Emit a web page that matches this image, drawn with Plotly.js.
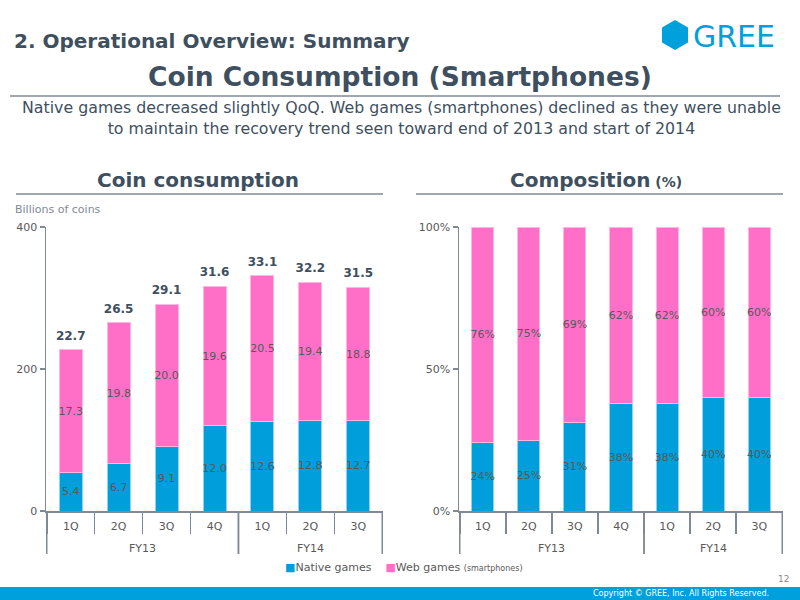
<!DOCTYPE html>
<html>
<head>
<meta charset="utf-8">
<script src="https://cdn.plot.ly/plotly-3.0.1.min.js"></script>
<style>html,body{margin:0;padding:0;background:#fff;}#chart{width:800px;height:600px;}</style>
</head>
<body>
<div id="chart"></div>
<script>
// ---- data ----
const periods = ['1Q','2Q','3Q','4Q','1Q','2Q','3Q'];
const fiscalYears = ['FY13','FY13','FY13','FY13','FY14','FY14','FY14'];
const nativeGames = [5.4, 6.7, 9.1, 12.0, 12.6, 12.8, 12.7];
const webGames = [17.3, 19.8, 20.0, 19.6, 20.5, 19.4, 18.8];
const totals = [22.7, 26.5, 29.1, 31.6, 33.1, 32.2, 31.5];
const nativePct = [24, 25, 31, 38, 38, 40, 40];
const webPct = [76, 75, 69, 62, 62, 60, 60];
const leftTickVals = [0, 20, 40];
const leftTickText = ['0', '200', '400'];
const rightTickVals = [0, 50, 100];
const rightTickText = ['0%', '50%', '100%'];

// ---- styles ----
const BLUE = '#009FDB';
const PINK = '#FF6FC8';
const DARK = '#3E4F60';
const GRAY = '#7F8A96';
const LABEL = '#595959';
const FONT = 'DejaVu Sans';
const px = v => v / 800;
const py = v => 1 - v / 600;

// unique category keys (fiscal year + quarter), shown as quarter only
const keys = periods.map((p, i) => fiscalYears[i] + ' ' + p);
const groups = [...new Set(fiscalYears)].map(fy => {
  const idx = fiscalYears.map((f, i) => f === fy ? i : -1).filter(i => i >= 0);
  return {fy: fy, first: idx[0], last: idx[idx.length - 1]};
});

const barCommon = {
  type: 'bar', textposition: 'inside', insidetextanchor: 'middle', textangle: 0,
  constraintext: 'none', cliponaxis: false, hoverinfo: 'skip',
  textfont: {family: FONT, size: 11, color: LABEL}
};

const traces = [
  Object.assign({}, barCommon, {x: keys, y: nativeGames, name: 'Native games', xaxis: 'x', yaxis: 'y',
    text: nativeGames.map(v => v.toFixed(1)), marker: {color: BLUE, line: {color: '#8fd3f0', width: 1}}}),
  Object.assign({}, barCommon, {x: keys, y: webGames, name: 'Web games', xaxis: 'x', yaxis: 'y',
    text: webGames.map(v => v.toFixed(1)), marker: {color: PINK, line: {color: '#ffb8e3', width: 1}}}),
  {type: 'scatter', mode: 'markers+text', x: keys, y: totals, xaxis: 'x', yaxis: 'y', hoverinfo: 'skip',
    marker: {size: 10, color: 'rgba(0,0,0,0)'},
    text: totals.map(v => v.toFixed(1)), textposition: 'top center', cliponaxis: false,
    textfont: {family: FONT, size: 12, color: DARK, weight: 'bold'}},
  Object.assign({}, barCommon, {x: keys, y: nativePct, name: 'Native games %', xaxis: 'x2', yaxis: 'y2',
    text: nativePct.map(v => v + '%'), marker: {color: BLUE, line: {color: '#8fd3f0', width: 1}}}),
  Object.assign({}, barCommon, {x: keys, y: webPct, name: 'Web games %', xaxis: 'x2', yaxis: 'y2',
    text: webPct.map(v => v + '%'), marker: {color: PINK, line: {color: '#ffb8e3', width: 1}}})
];

const xCommon = {
  type: 'category', showline: true, linecolor: GRAY, linewidth: 1.5,
  tickmode: 'array', tickvals: keys, ticktext: periods,
  tickson: 'boundaries', ticks: 'outside', ticklen: 21, tickcolor: GRAY, tickwidth: 1.5,
  ticklabelstandoff: 4,
  tickfont: {family: FONT, size: 11, color: LABEL}, fixedrange: true, showgrid: false
};
const yCommon = {
  showline: true, linecolor: GRAY, linewidth: 1.5, ticks: 'outside', ticklen: 5,
  tickcolor: GRAY, tickwidth: 1.5, showgrid: false, zeroline: false, tickmode: 'array',
  tickfont: {family: FONT, size: 11, color: LABEL}, fixedrange: true
};

const shapes = [
  {type: 'line', xref: 'paper', yref: 'paper', x0: px(10), x1: px(780), y0: py(96), y1: py(96), line: {color: GRAY, width: 1.5}},
  {type: 'line', xref: 'paper', yref: 'paper', x0: px(16), x1: px(383), y0: py(194), y1: py(194), line: {color: GRAY, width: 1.5}},
  {type: 'line', xref: 'paper', yref: 'paper', x0: px(416), x1: px(783), y0: py(194), y1: py(194), line: {color: GRAY, width: 1.5}},
  {type: 'rect', xref: 'paper', yref: 'paper', x0: 0, x1: 1, y0: 0, y1: py(587), fillcolor: '#00A0DC', line: {width: 0}},
  {type: 'path', xref: 'paper', yref: 'paper', fillcolor: '#00A0DC', line: {width: 0},
    path: 'M ' + px(675) + ' ' + py(20) + ' L ' + px(688) + ' ' + py(27.5) + ' L ' + px(688) + ' ' + py(42.5) +
          ' L ' + px(675) + ' ' + py(50) + ' L ' + px(662) + ' ' + py(42.5) + ' L ' + px(662) + ' ' + py(27.5) + ' Z'}
];
const annotations = [
  {xref: 'paper', yref: 'paper', x: px(12), y: py(41), xanchor: 'left', yanchor: 'middle', showarrow: false,
    text: '<b>2. Operational Overview: Summary</b>', font: {family: FONT, size: 20, color: DARK}},
  {xref: 'paper', yref: 'paper', x: px(691), y: py(36), xanchor: 'left', yanchor: 'middle', showarrow: false,
    text: 'GREE', font: {family: FONT, size: 30, color: '#00A0DC'}},
  {xref: 'paper', yref: 'paper', x: px(400), y: py(76), xanchor: 'center', yanchor: 'middle', showarrow: false,
    text: '<b>Coin Consumption (Smartphones)</b>', font: {family: FONT, size: 26.5, color: DARK}},
  {xref: 'paper', yref: 'paper', x: px(401), y: py(118), xanchor: 'center', yanchor: 'middle', showarrow: false, align: 'center',
    text: 'Native games decreased slightly QoQ. Web games (smartphones) declined as they were unable<br>to maintain the recovery trend seen toward end of 2013 and start of 2014',
    font: {family: FONT, size: 15.8, color: DARK}},
  {xref: 'paper', yref: 'paper', x: px(198), y: py(180), xanchor: 'center', yanchor: 'middle', showarrow: false,
    text: '<b>Coin consumption</b>', font: {family: FONT, size: 20, color: DARK}},
  {xref: 'paper', yref: 'paper', x: px(596), y: py(180), xanchor: 'center', yanchor: 'middle', showarrow: false,
    text: '<b>Composition</b><b><span style="font-size:14px"> (%)</span></b>', font: {family: FONT, size: 20, color: DARK}},
  {xref: 'paper', yref: 'paper', x: px(13), y: py(209), xanchor: 'left', yanchor: 'middle', showarrow: false,
    text: 'Billions of coins', font: {family: FONT, size: 11, color: GRAY}},
  {xref: 'paper', yref: 'paper', x: px(283), y: py(567), xanchor: 'left', yanchor: 'middle', showarrow: false,
    text: '<span style="color:' + BLUE + '">■</span>Native games    <span style="color:' + PINK + '">■</span>Web games <span style="font-size:8px">(smartphones)</span>',
    font: {family: FONT, size: 11, color: LABEL}},
  {xref: 'paper', yref: 'paper', x: px(783), y: py(579), xanchor: 'center', yanchor: 'middle', showarrow: false,
    text: '12', font: {family: FONT, size: 9, color: '#8a8a8a'}},
  {xref: 'paper', yref: 'paper', x: px(771), y: py(593.5), xanchor: 'right', yanchor: 'middle', showarrow: false,
    text: 'Copyright © GREE, Inc. All Rights Reserved.', font: {family: FONT, size: 8, color: '#ffffff'}}
];

// fiscal-year group labels and dividers on both charts
['x', 'x2'].forEach(xr => {
  groups.forEach(g => {
    annotations.push({xref: xr, yref: 'paper', x: (g.first + g.last) / 2, y: py(548), xanchor: 'center', yanchor: 'middle',
      showarrow: false, text: g.fy, font: {family: FONT, size: 11, color: LABEL}});
    [g.first - 0.5, g.last + 0.5].forEach(b => {
      shapes.push({type: 'line', xref: xr, yref: 'paper', x0: b, x1: b, y0: py(511), y1: py(554), line: {color: GRAY, width: 1.5}});
    });
  });
});

const layout = {
  width: 800, height: 600, autosize: false,
  margin: {l: 0, r: 0, t: 0, b: 0},
  paper_bgcolor: '#fff', plot_bgcolor: '#fff',
  showlegend: false, barmode: 'stack', bargap: 0.52,
  xaxis: Object.assign({}, xCommon, {domain: [px(46), px(383)], anchor: 'y'}),
  yaxis: Object.assign({}, yCommon, {domain: [py(511), py(227)], anchor: 'x', range: [0, 40],
    tickvals: leftTickVals, ticktext: leftTickText}),
  xaxis2: Object.assign({}, xCommon, {domain: [px(459), px(783)], anchor: 'y2'}),
  yaxis2: Object.assign({}, yCommon, {domain: [py(511), py(227)], anchor: 'x2', range: [0, 100],
    tickvals: rightTickVals, ticktext: rightTickText}),
  shapes: shapes,
  annotations: annotations
};

Plotly.newPlot('chart', traces, layout, {displayModeBar: false, staticPlot: true});
</script>
</body>
</html>
